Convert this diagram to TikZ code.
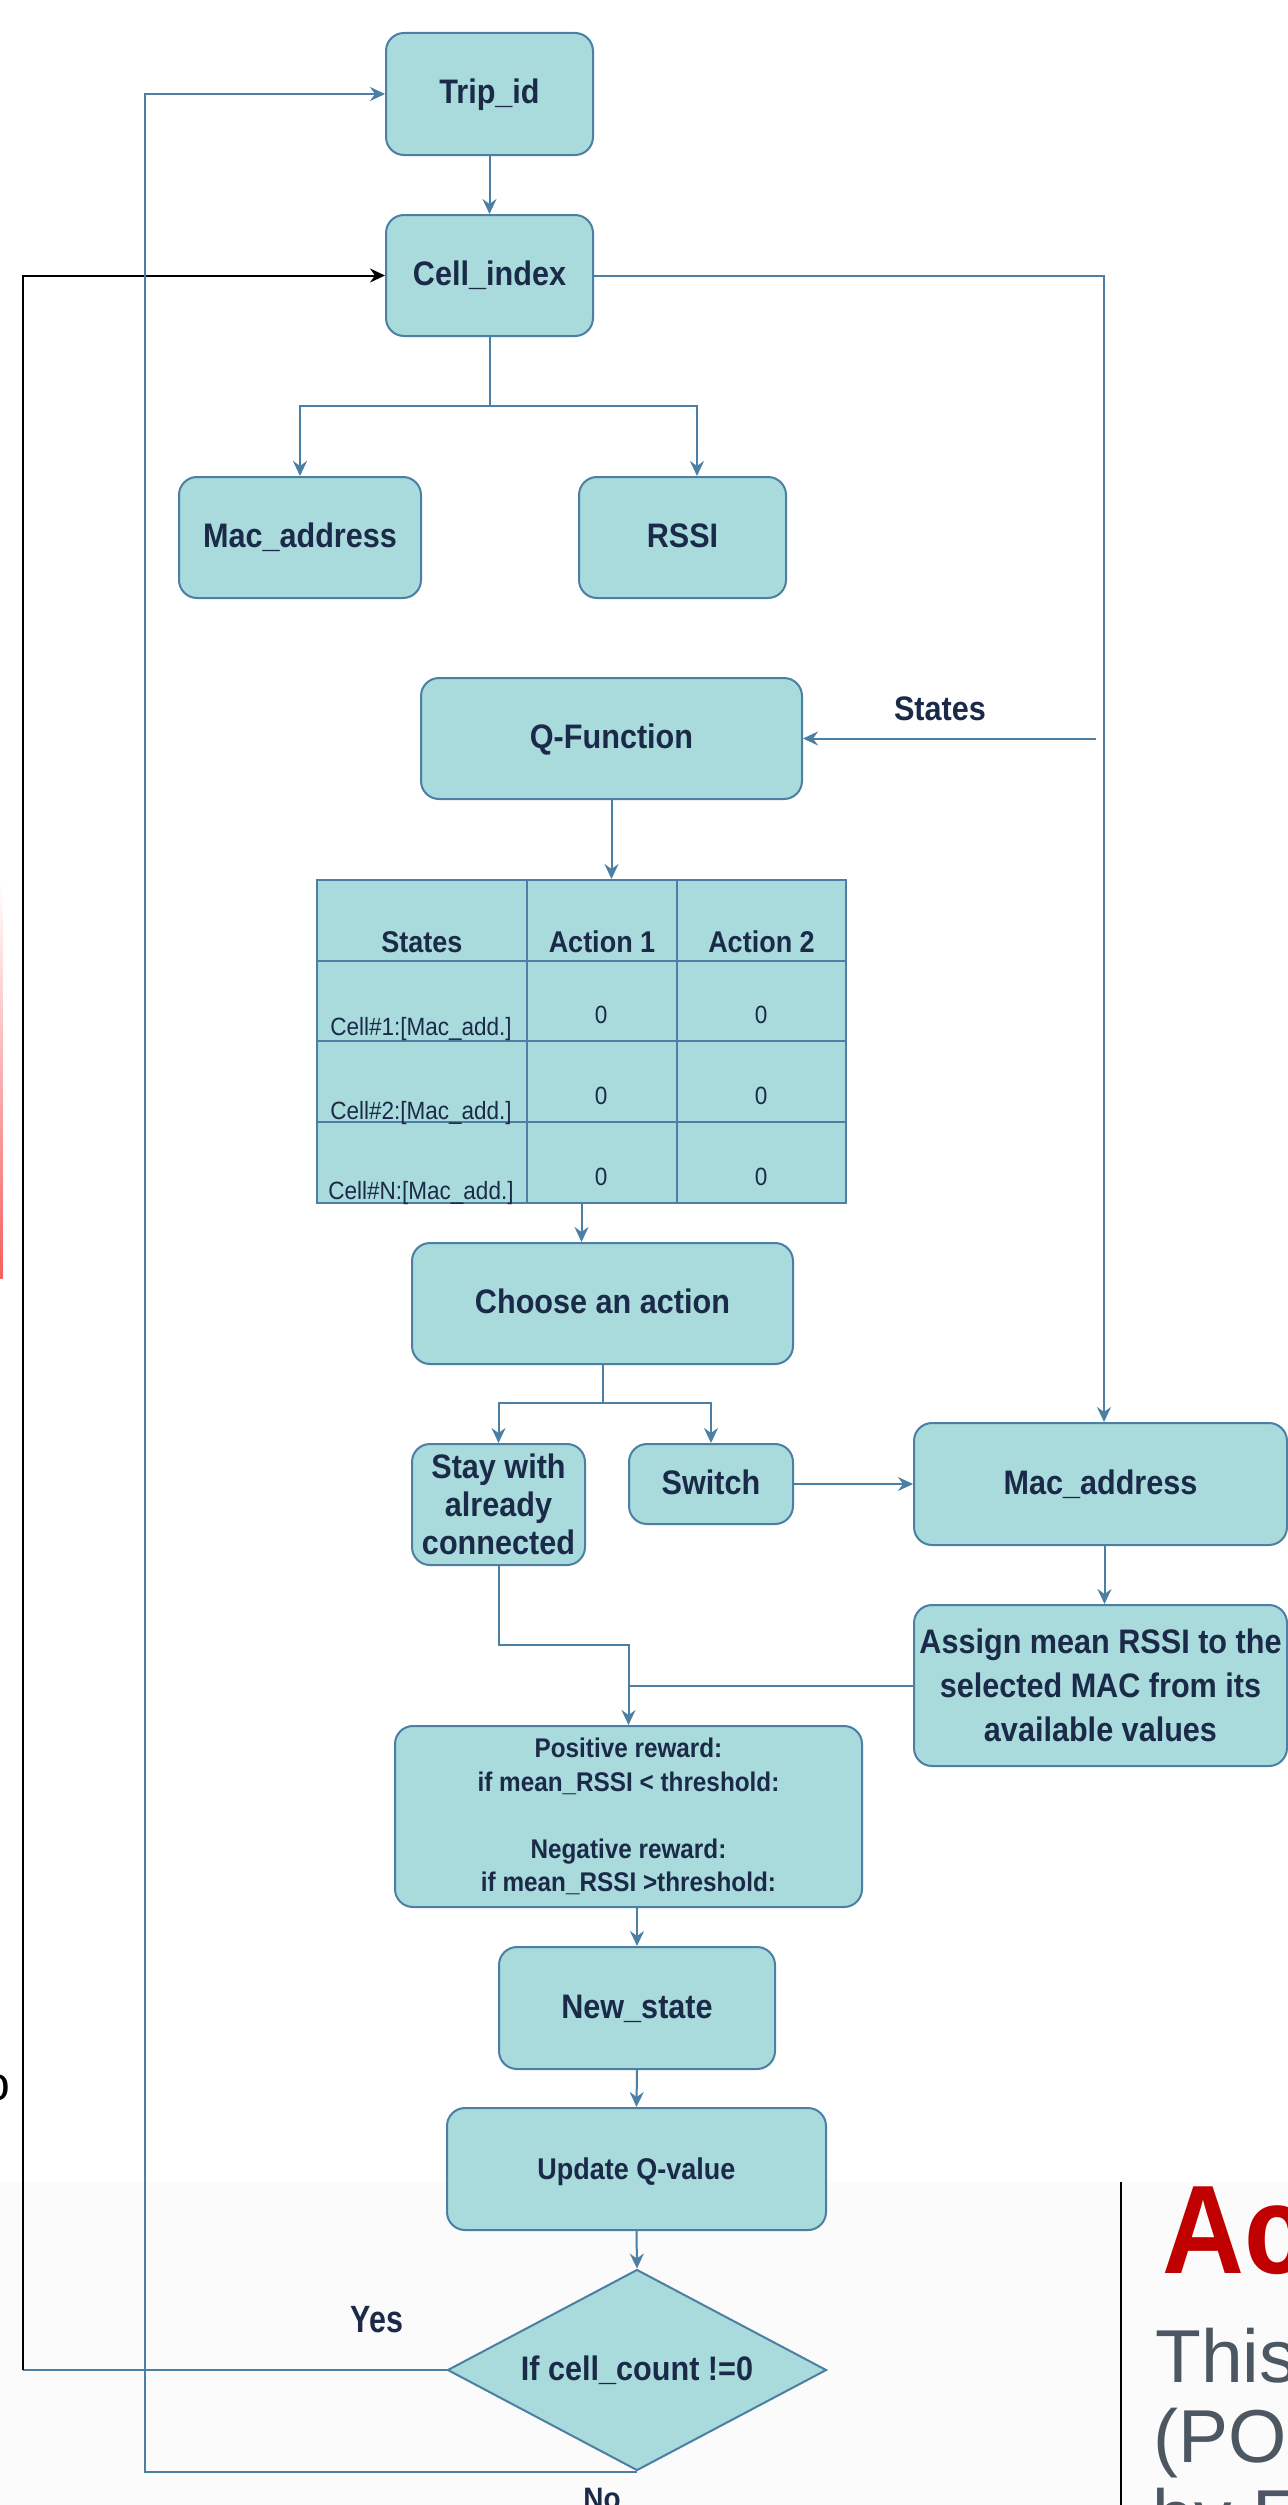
\documentclass[tikz,border=0pt]{standalone}
\usepackage{fontspec}
\setmainfont{Liberation Sans}[FakeStretch=0.9]
\newfontfamily\plainsans{Liberation Sans}
\newfontfamily\narrowsans{Liberation Sans}[FakeStretch=0.8]
\usetikzlibrary{shapes.geometric,arrows.meta,calc}
\definecolor{boxfill}{RGB}{169,218,220}
\definecolor{boxedge}{RGB}{75,127,163}
\definecolor{boxtext}{RGB}{27,42,72}
\definecolor{slidered}{RGB}{192,0,0}
\definecolor{slidegrey}{RGB}{77,87,97}
\definecolor{slidebg}{RGB}{251,251,251}
\definecolor{fadered}{RGB}{245,95,95}
\begin{document}
\begin{tikzpicture}[x=0.5pt, y=-0.5pt,
  box/.style={draw=boxedge, fill=boxfill, line width=1pt, rounded corners=9pt,
    inner sep=0pt, text=boxtext, font=\bfseries\fontsize{17}{19}\selectfont, align=center},
  oneline/.style={text height=11pt, text depth=1pt},
  conn/.style={draw=boxedge, line width=1pt},
  arr/.style={-{Stealth[length=7.5pt,width=7pt,inset=2.5pt]}},
  lbl/.style={text=boxtext, inner sep=0pt, anchor=base},
  headtxt/.style={lbl, font=\bfseries\fontsize{15}{17}\selectfont},
  celltxt/.style={lbl, font=\fontsize{12.5}{14}\selectfont}
]
\useasboundingbox (0,0) rectangle (1288,2505);
\fill[white] (0,0) rectangle (1288,2505);
\fill[slidebg] (0,2182) rectangle (1288,2505);

% boxes
\node[box, oneline, minimum width=103.5pt, minimum height=61pt] (trip) at (489.5,94) {Trip\_id};
\node[box, oneline, minimum width=103.5pt, minimum height=60.5pt] (cell) at (489.5,275.5) {Cell\_index};
\node[box, oneline, minimum width=121pt, minimum height=60.5pt] (mac1) at (300,537.5) {Mac\_address};
\node[box, oneline, minimum width=103.5pt, minimum height=60.5pt] (rssi) at (682.5,537.5) {RSSI};
\node[box, oneline, minimum width=190.5pt, minimum height=60.5pt] (qf) at (611.5,738.5) {Q-Function};

% Q table
\node[draw=boxedge, fill=boxfill, line width=1pt, minimum width=264.5pt, minimum height=161.5pt, inner sep=0pt] (qtable) at (581.5,1041.5) {};
\draw[conn] (527,880) -- (527,1203);
\draw[conn] (677,880) -- (677,1203);
\draw[conn] (317,961) -- (846,961);
\draw[conn] (317,1041) -- (846,1041);
\draw[conn] (317,1122) -- (846,1122);
\node[headtxt] (hstates) at (422,952) {States};
\node[headtxt] (hact1) at (602,952) {Action 1};
\node[headtxt] (hact2) at (761.5,952) {Action 2};
\node[celltxt] (r1s) at (421,1035) {Cell\#1:[Mac\_add.]};
\node[celltxt] (r1a) at (601,1023) {0};
\node[celltxt] (r1b) at (761,1023) {0};
\node[celltxt] (r2s) at (421,1119) {Cell\#2:[Mac\_add.]};
\node[celltxt] (r2a) at (601,1104) {0};
\node[celltxt] (r2b) at (761,1104) {0};
\node[celltxt] (r3s) at (421,1199) {Cell\#N:[Mac\_add.]};
\node[celltxt] (r3a) at (601,1185) {0};
\node[celltxt] (r3b) at (761,1185) {0};

\node[box, oneline, minimum width=190.5pt, minimum height=60.5pt] (choose) at (602.5,1303.5) {Choose an action};
\node[box, minimum width=86.5pt, minimum height=60.5pt] (stay) at (498.5,1504.5) {Stay with\\already\\connected};
\node[box, oneline, minimum width=82pt, minimum height=40pt] (switch) at (711,1484) {Switch};
\node[box, oneline, minimum width=186.5pt, minimum height=61pt] (mac2) at (1100.5,1484) {Mac\_address};
\node[box, minimum width=186.5pt, minimum height=80.5pt, font=\bfseries\fontsize{17}{22}\selectfont] (assign) at (1100.5,1685.5) {Assign mean RSSI to the\\selected MAC from its\\available values};
\node[box, minimum width=233.5pt, minimum height=90.5pt, font=\bfseries\fontsize{13.5}{16.75}\selectfont] (reward) at (628.5,1816.5) {Positive reward:\\if mean\_RSSI \textless{} threshold:\\[16.75pt]Negative reward:\\if mean\_RSSI \textgreater{}threshold:};
\node[box, oneline, minimum width=138pt, minimum height=61pt] (newstate) at (637,2008) {New\_state};
\node[box, oneline, minimum width=189.5pt, minimum height=61pt, font=\bfseries\fontsize{15}{17}\selectfont] (update) at (636.5,2169) {Update Q-value};
\node[box, diamond, aspect=1.886, rounded corners=0pt, oneline, minimum width=189.5pt, minimum height=100.5pt] (dia) at (637,2370) {If cell\_count !=0};

% labels
\node[lbl, font=\bfseries\fontsize{17}{19}\selectfont] (stateslbl) at (940,720) {States};
\node[lbl, font=\narrowsans\bfseries\fontsize{19}{21}\selectfont] (yes) at (377,2332) {Yes};
\node[lbl, font=\bfseries\fontsize{15.5}{17}\selectfont] (no) at (602,2509) {No};

% helper coordinates
\coordinate (splitA) at (489.5,406);
\coordinate (splitB) at (602.5,1403);
\coordinate (stayc) at (498.5,1645);
\coordinate (statesc) at (1096,738.5);
\coordinate (yesc) at (23,2370);
\coordinate (noc) at (145,94);

% connectors
\draw[conn, arr] (trip.south) -- (cell.north);
\draw[conn] (cell.south) -- (splitA);
\draw[conn, arr] (splitA) -| (mac1.north);
\draw[conn, arr] (splitA) -| ([xshift=7.25pt]rssi.north);
\draw[conn, arr] (cell.east) -| ([xshift=1.75pt]mac2.north);
\draw[conn, arr] (statesc) -- (qf.east);
\draw[conn, arr] (qf.south) -- (qf.south |- qtable.north);
\draw[conn, arr] (qtable.south) -- (qtable.south |- choose.north);
\draw[conn] (choose.south) -- (splitB);
\draw[conn, arr] (splitB) -| (stay.north);
\draw[conn, arr] (splitB) -| (switch.north);
\draw[conn, arr] (switch.east) -- (mac2.west);
\draw[conn, arr] ([xshift=2pt]mac2.south) -- ([xshift=2pt]assign.north);
\draw[conn, arr] (stay.south) -- (stayc) -| (reward.north);
\draw[conn] (assign.west) -- (assign.west -| reward.north);
\draw[conn, arr] (newstate.north |- reward.south) -- (newstate.north);
\draw[conn, arr] (newstate.south) -- (update.north);
\draw[conn, arr] (update.south) -- (dia.north);
\draw[conn] (dia.west) -- (yesc);
\draw[line width=1pt, black, -{Stealth[length=7.5pt,width=7pt,inset=2.5pt]}] (yesc) |- (cell.west);
\draw[conn, arr] (dia.south) -| (noc) -- (trip.west);

% screenshot remnants
\shade[top color=white, bottom color=fadered] (0,880) rectangle (2.5,1278);
\node[anchor=base west, inner sep=0pt, text=black, font=\plainsans\fontsize{24}{26}\selectfont] (frag) at (-17,2100) {o};
\draw[line width=0.75pt, black] (1121,2182) -- (1121,2505);
\node[anchor=base west, inner sep=0pt, text=slidered, font=\bfseries\fontsize{63}{63}\selectfont] (ac) at (1162,2273) {Ac};
\node[anchor=base west, inner sep=0pt, text=slidegrey, font=\plainsans\fontsize{37.5}{40}\selectfont] (this) at (1155,2382) {This};
\node[anchor=base west, inner sep=0pt, text=slidegrey, font=\plainsans\fontsize{37.5}{40}\selectfont] (po) at (1153,2462) {(PO};
\node[anchor=base west, inner sep=0pt, text=slidegrey, font=\plainsans\fontsize{37.5}{40}\selectfont] (byf) at (1152,2542) {by F};
\end{tikzpicture}
\end{document}
